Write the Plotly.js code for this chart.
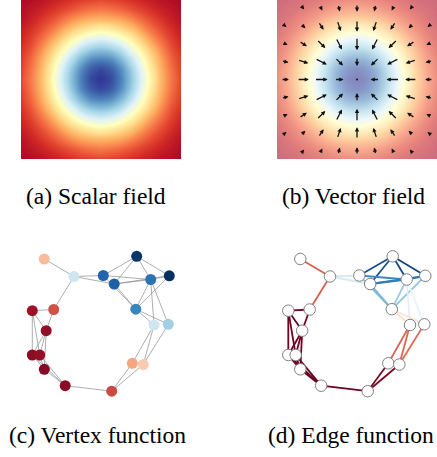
<!DOCTYPE html>
<html>
<head>
<meta charset="utf-8">
<script src="https://cdn.plot.ly/plotly-3.0.1.min.js"></script>
<style>
html,body{margin:0;padding:0;background:#fff;}
#chart{width:437px;height:457px;}
#chart text{font-family:"Liberation Serif","Times New Roman",serif !important;}
</style>
</head>
<body>
<div id="chart"></div>
<script>
// ---------- Data ----------
// (a)/(b) scalar field sampled on a 17x17 grid
const fieldX = [-2,-1.75,-1.5,-1.25,-1,-0.75,-0.5,-0.25,0,0.25,0.5,0.75,1,1.25,1.5,1.75,2];
const fieldY = [-2,-1.75,-1.5,-1.25,-1,-0.75,-0.5,-0.25,0,0.25,0.5,0.75,1,1.25,1.5,1.75,2];
const fieldZ = [
 [.98,.97,.96,.94,.92,.90,.88,.87,.86,.87,.88,.90,.92,.94,.96,.97,.98],
 [.97,.95,.93,.90,.87,.84,.81,.79,.78,.79,.81,.84,.87,.90,.93,.95,.97],
 [.96,.93,.89,.85,.80,.75,.71,.69,.68,.69,.71,.75,.80,.85,.89,.93,.96],
 [.94,.90,.85,.79,.72,.65,.60,.56,.54,.56,.60,.65,.72,.79,.85,.90,.94],
 [.92,.87,.80,.72,.63,.54,.46,.41,.39,.41,.46,.54,.63,.72,.80,.87,.92],
 [.90,.84,.75,.65,.54,.43,.33,.27,.25,.27,.33,.43,.54,.65,.75,.84,.90],
 [.88,.81,.71,.60,.46,.33,.22,.14,.12,.14,.22,.33,.46,.60,.71,.81,.88],
 [.87,.79,.69,.56,.41,.27,.14,.06,.03,.06,.14,.27,.41,.56,.69,.79,.87],
 [.86,.78,.68,.54,.39,.25,.12,.03,0,.03,.12,.25,.39,.54,.68,.78,.86],
 [.87,.79,.69,.56,.41,.27,.14,.06,.03,.06,.14,.27,.41,.56,.69,.79,.87],
 [.88,.81,.71,.60,.46,.33,.22,.14,.12,.14,.22,.33,.46,.60,.71,.81,.88],
 [.90,.84,.75,.65,.54,.43,.33,.27,.25,.27,.33,.43,.54,.65,.75,.84,.90],
 [.92,.87,.80,.72,.63,.54,.46,.41,.39,.41,.46,.54,.63,.72,.80,.87,.92],
 [.94,.90,.85,.79,.72,.65,.60,.56,.54,.56,.60,.65,.72,.79,.85,.90,.94],
 [.96,.93,.89,.85,.80,.75,.71,.69,.68,.69,.71,.75,.80,.85,.89,.93,.96],
 [.97,.95,.93,.90,.87,.84,.81,.79,.78,.79,.81,.84,.87,.90,.93,.95,.97],
 [.98,.97,.96,.94,.92,.90,.88,.87,.86,.87,.88,.90,.92,.94,.96,.97,.98]
];

// (b) vector field on a 9x9 grid (rows top to bottom)
const arrowX = [-1.8,-1.35,-0.9,-0.45,0,0.45,0.9,1.35,1.8];
const arrowY = [1.8,1.35,0.9,0.45,0,-0.45,-0.9,-1.35,-1.8];
const arrowU = [
 [0.07,0.11,0.12,0.08,0,-0.08,-0.12,-0.11,-0.07],
 [0.14,0.22,0.24,0.16,0,-0.16,-0.24,-0.22,-0.14],
 [0.24,0.36,0.40,0.27,0,-0.27,-0.40,-0.36,-0.24],
 [0.32,0.49,0.54,0.37,0,-0.37,-0.54,-0.49,-0.32],
 [0.36,0.54,0.60,0.41,0,-0.41,-0.60,-0.54,-0.36],
 [0.32,0.49,0.54,0.37,0,-0.37,-0.54,-0.49,-0.32],
 [0.24,0.36,0.40,0.27,0,-0.27,-0.40,-0.36,-0.24],
 [0.14,0.22,0.24,0.16,0,-0.16,-0.24,-0.22,-0.14],
 [0.07,0.11,0.12,0.08,0,-0.08,-0.12,-0.11,-0.07]
];
const arrowV = [
 [-0.07,-0.14,-0.24,-0.32,-0.36,-0.32,-0.24,-0.14,-0.07],
 [-0.11,-0.22,-0.36,-0.49,-0.54,-0.49,-0.36,-0.22,-0.11],
 [-0.12,-0.24,-0.40,-0.54,-0.60,-0.54,-0.40,-0.24,-0.12],
 [-0.08,-0.16,-0.27,-0.37,-0.41,-0.37,-0.27,-0.16,-0.08],
 [0,0,0,0,0,0,0,0,0],
 [0.08,0.16,0.27,0.37,0.41,0.37,0.27,0.16,0.08],
 [0.12,0.24,0.40,0.54,0.60,0.54,0.40,0.24,0.12],
 [0.11,0.22,0.36,0.49,0.54,0.49,0.36,0.22,0.11],
 [0.07,0.14,0.24,0.32,0.36,0.32,0.24,0.14,0.07]
];

// (c)/(d) graph
const nodeX = [24.3,54,83.3,116.7,94.2,130.7,149.3,115.8,134,148.3,112.3,123.3,91.7,45.2,24.3,12.3,19.7,26.2,12.3,33.7];
const nodeY = [14,31.5,30.5,11.3,39,34.5,30.8,64.2,80,79.3,118.3,119.5,146.2,140.7,124.3,110,110,85.7,65.7,64.5];
const nodeValue = [0.66,0.40,0.10,0.01,0.09,0.13,0.0,0.17,0.40,0.33,0.70,0.63,0.83,0.95,0.96,0.95,0.94,0.94,0.93,0.82];
const edgeSource = [0,1,1,1,2,3,3,3,2,4,4,5,2,4,5,6,5,5,7,7,8,8,9,10,11,12,13,13,13,14,14,14,15,16,15,16,17,17,18];
const edgeTarget = [1,19,2,4,3,4,5,6,5,5,6,6,7,7,7,7,8,9,8,9,10,11,11,12,12,13,14,15,16,15,16,17,17,17,18,18,18,19,19];
const edgeValue = [0.80,0.80,0.42,0.42,0.06,0.06,0.05,0.04,0.18,0.16,0.15,0.13,0.28,0.27,0.32,0.30,0.45,0.47,0.58,0.57,0.79,0.79,0.78,0.97,0.97,0.99,1.0,1.0,1.0,1.0,1.0,0.99,0.99,0.99,0.99,0.99,0.99,0.98,0.98];

const captions = ['(a) Scalar field','(b) Vector field','(c) Vertex function','(d) Edge function'];

// ---------- Styles ----------
const RdYlBu_r = ['#313695','#4575b4','#74add1','#abd9e9','#e0f3f8','#ffffbf','#fee090','#fdae61','#f46d43','#d73027','#a50026'];
const RdBu_r = ['#053061','#2166ac','#4393c3','#92c5de','#d1e5f0','#f7f7f7','#fddbc7','#f4a582','#d6604d','#b2182b','#67001f'];
const toScale = cols => cols.map((c,i)=>[i/(cols.length-1), c]);
function hex2rgb(h){return [parseInt(h.slice(1,3),16),parseInt(h.slice(3,5),16),parseInt(h.slice(5,7),16)];}
function mapColor(cols, t){
  t = Math.max(0, Math.min(1, t));
  const n = cols.length-1, p = t*n, i = Math.min(Math.floor(p), n-1), f = p-i;
  const a = hex2rgb(cols[i]), b = hex2rgb(cols[i+1]);
  return 'rgb(' + a.map((v,k)=>Math.round(v+(b[k]-v)*f)).join(',') + ')';
}

const W = 437, H = 457;
const px = v => v / W;
const py = v => 1 - v / H;

const traces = [];
function fieldTrace(xa, ya, op){
  return {type:'contour', x:fieldX, y:fieldY, z:fieldZ, xaxis:xa, yaxis:ya,
    colorscale: toScale(RdYlBu_r), zmin:0, zmax:1, autocontour:false,
    contours:{start:-0.005, end:1.005, size:0.01, coloring:'fill', showlines:false},
    line:{width:0, smoothing:1}, showscale:false, opacity:op, hoverinfo:'skip'};
}
traces.push(fieldTrace('x','y',1));
traces.push(fieldTrace('x2','y2',0.6));

// captions + arrows
const annotations = [];
const capFont = {family:'Liberation Serif', size:23.5, color:'#000'};
const capPos = [[96,196],[353,196],[97,435],[351,435]];
captions.forEach((c,i)=>{
  annotations.push({xref:'paper', yref:'paper', x:px(capPos[i][0]), y:py(capPos[i][1]),
    xanchor:'center', yanchor:'middle', text:c, showarrow:false, font:capFont});
});
const half = 0.27;
const dotX = [], dotY = [];
arrowY.forEach((yy, r) => {
  arrowX.forEach((xx, c) => {
    const u = arrowU[r][c], v = arrowV[r][c];
    if (u === 0 && v === 0) { dotX.push(xx); dotY.push(yy); return; }
    annotations.push({xref:'x2', yref:'y2', axref:'x2', ayref:'y2',
      x: xx + u*half, y: yy + v*half, ax: xx - u*half, ay: yy - v*half,
      text:'', showarrow:true, arrowhead:2, arrowsize:0.65, arrowwidth:1.3, arrowcolor:'#111', standoff:0});
  });
});
traces.push({type:'scatter', mode:'markers', x:dotX, y:dotY, xaxis:'x2', yaxis:'y2',
  marker:{size:2, color:'#111'}, hoverinfo:'skip', showlegend:false});

// (c) edges grey
const ex = [], ey = [];
edgeSource.forEach((s,i)=>{ const t = edgeTarget[i];
  ex.push(nodeX[s], nodeX[t], null); ey.push(nodeY[s], nodeY[t], null); });
traces.push({type:'scatter', mode:'lines', x:ex, y:ey, xaxis:'x3', yaxis:'y3',
  line:{color:'rgba(140,140,140,0.7)', width:1}, hoverinfo:'skip', showlegend:false, cliponaxis:false});
traces.push({type:'scatter', mode:'markers', x:nodeX, y:nodeY, xaxis:'x3', yaxis:'y3',
  marker:{size:11, color:nodeValue, colorscale:toScale(RdBu_r), cmin:0, cmax:1, line:{width:0}},
  hoverinfo:'skip', showlegend:false, cliponaxis:false});

// (d) coloured edges
edgeSource.forEach((s,i)=>{ const t = edgeTarget[i];
  traces.push({type:'scatter', mode:'lines', x:[nodeX[s], nodeX[t]], y:[nodeY[s], nodeY[t]],
    xaxis:'x4', yaxis:'y4', line:{color: mapColor(RdBu_r, edgeValue[i]), width:1.8},
    hoverinfo:'skip', showlegend:false, cliponaxis:false});
});
traces.push({type:'scatter', mode:'markers', x:nodeX, y:nodeY, xaxis:'x4', yaxis:'y4',
  marker:{size:11.5, color:'#ffffff', line:{width:1, color:'#808080'}},
  hoverinfo:'skip', showlegend:false, cliponaxis:false});

const hid = {visible:false, showgrid:false, zeroline:false, fixedrange:true};
const layout = {
  width:W, height:H, margin:{l:0,r:0,t:0,b:0}, paper_bgcolor:'#fff', plot_bgcolor:'rgba(0,0,0,0)',
  showlegend:false,
  font:{family:'Liberation Serif'},
  xaxis: Object.assign({}, hid, {domain:[px(21), px(181)], range:[-2,2]}),
  yaxis: Object.assign({}, hid, {domain:[py(159), py(0)], range:[-2,2]}),
  xaxis2: Object.assign({}, hid, {domain:[px(277), px(437)], range:[-2,2]}),
  yaxis2: Object.assign({}, hid, {domain:[py(159), py(0)], range:[-2,2]}),
  xaxis3: Object.assign({}, hid, {domain:[px(20), px(180)], range:[0,160]}),
  yaxis3: Object.assign({}, hid, {domain:[py(400), py(245)], range:[155,0]}),
  xaxis4: Object.assign({}, hid, {domain:[px(276), px(436)], range:[0,160]}),
  yaxis4: Object.assign({}, hid, {domain:[py(400), py(245)], range:[155,0]}),
  annotations: annotations
};

Plotly.newPlot('chart', traces, layout, {staticPlot:true, displayModeBar:false});
</script>
</body>
</html>
